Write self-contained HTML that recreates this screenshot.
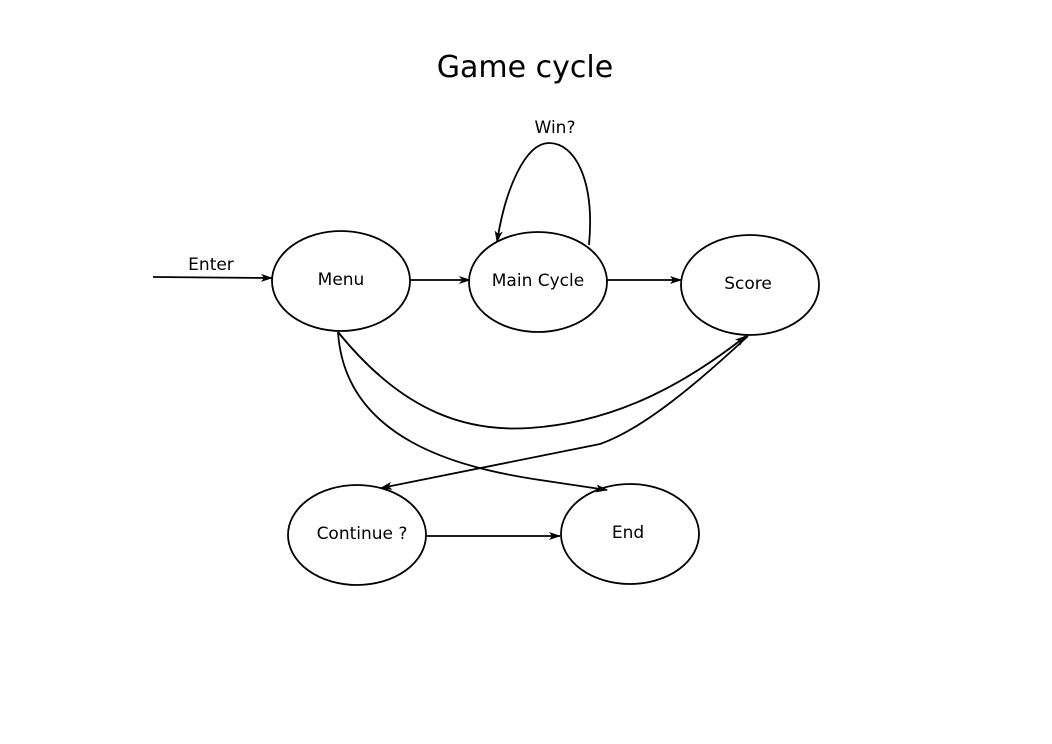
<!DOCTYPE html>
<html><head><style>body{margin:0;background:#fff}svg{display:block}</style></head>
<body>
<svg width="1052" height="744" viewBox="0 0 1052 744" xmlns="http://www.w3.org/2000/svg" font-family="DejaVu Sans, Liberation Sans, sans-serif">
<defs>
<marker id="a" markerWidth="12" markerHeight="8" refX="11" refY="4" orient="auto" markerUnits="userSpaceOnUse">
<path d="M0,0 L12,4 L0,8 L3,4 Z" fill="#000"/>
</marker>
</defs>
<text x="525" y="77" font-size="30" text-anchor="middle">Game cycle</text>
<g fill="#fff" stroke="#000" stroke-width="1.8">
<ellipse cx="341" cy="281" rx="69" ry="50"/>
<ellipse cx="538" cy="282" rx="69" ry="50"/>
<ellipse cx="750" cy="285" rx="69" ry="50"/>
<ellipse cx="357" cy="535" rx="69" ry="50"/>
<ellipse cx="630" cy="534" rx="69" ry="50"/>
</g>
<g fill="none" stroke="#000" stroke-width="1.8" marker-end="url(#a)">
<path d="M153,277 L272,278"/>
<path d="M410,280 L470,280"/>
<path d="M607,280 L681,280"/>
<path d="M589,245 C595,180 575,143 549,143 C525,143 505,190 497,242"/>
<path d="M338,332 C405,415 470,432 530,428 C620,422 690,380 746,336"/>
<path d="M338,332 C345,440 460,468 540,480 L607,490"/>
<path d="M748,336 C690,390 640,430 600,444 L381,488"/>
<path d="M427,536 L560,536"/>
</g>
<g font-size="17" text-anchor="middle">
<text x="211" y="270">Enter</text>
<text x="555" y="133">Win?</text>
<text x="341" y="285">Menu</text>
<text x="538" y="286">Main Cycle</text>
<text x="748" y="289">Score</text>
<text x="362" y="539">Continue ?</text>
<text x="628" y="538">End</text>
</g>
</svg>
</body></html>
